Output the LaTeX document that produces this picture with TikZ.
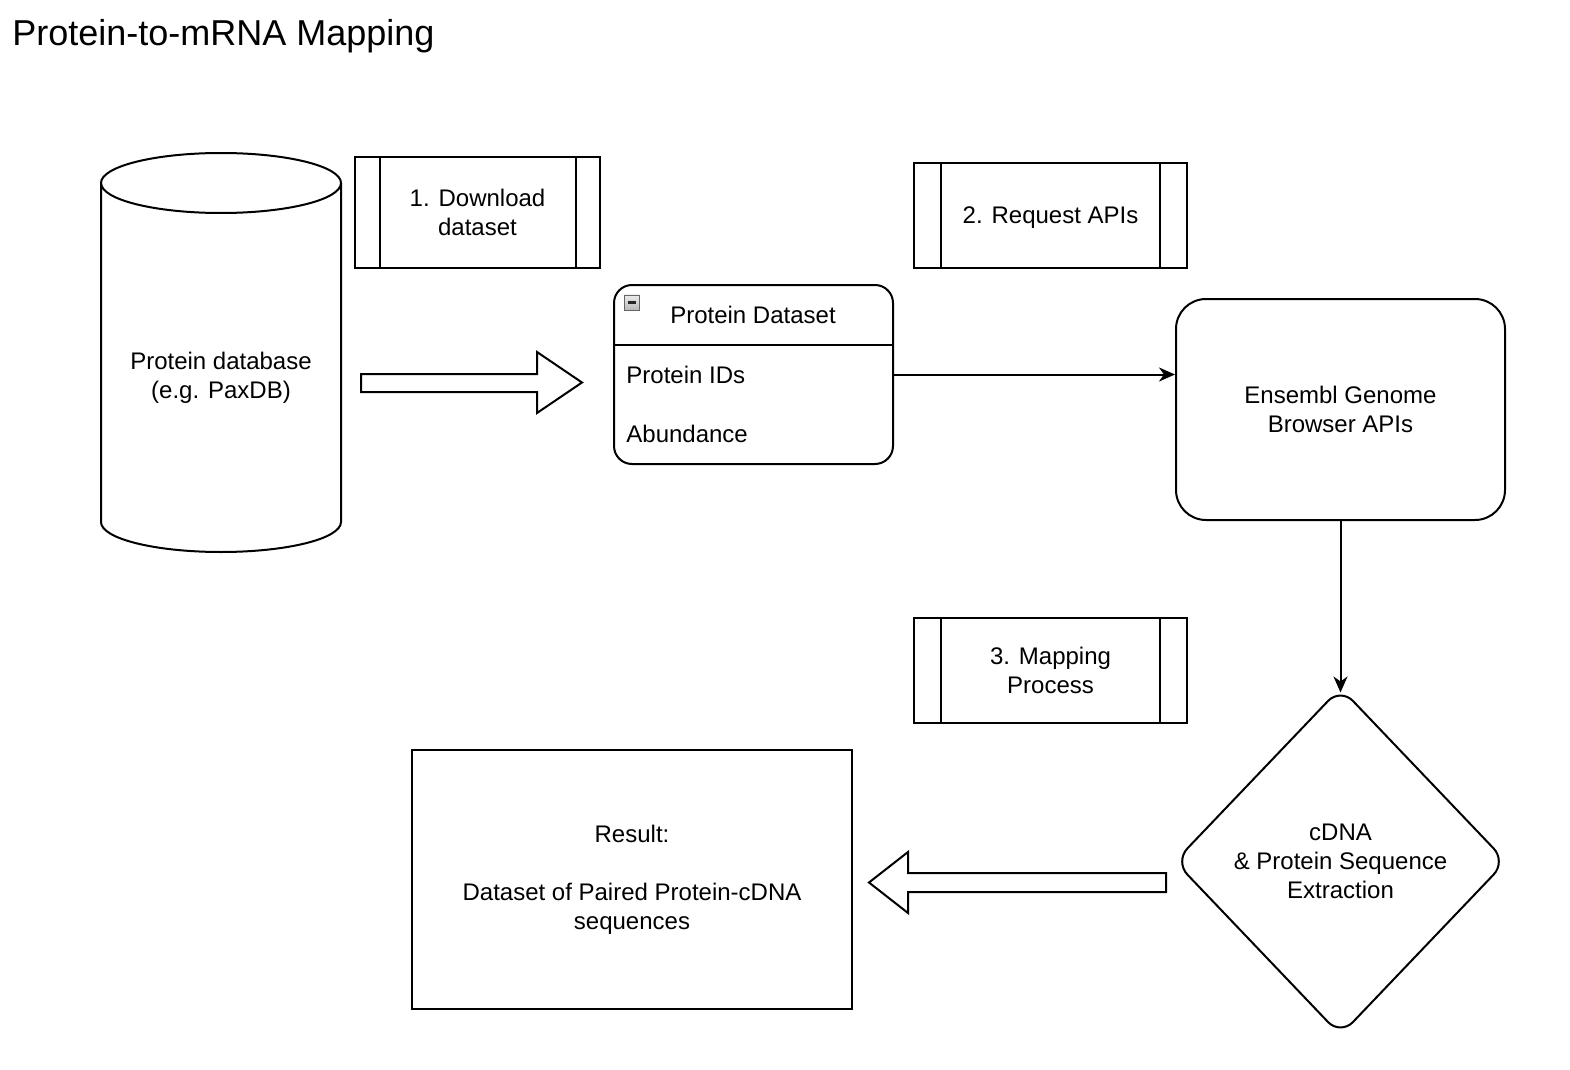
\documentclass[tikz,border=0pt]{standalone}
\usepackage{fontspec}
\setmainfont{Liberation Sans}
\usetikzlibrary{arrows.meta,shapes.geometric,calc}

\tikzset{
    txt/.style={font=\fontsize{12}{14.5}\selectfont, align=center},
    process/.style={txt, draw, line width=1pt,
        path picture={
            \draw[line width=1pt]
              ($(path picture bounding box.north west)!0.1!(path picture bounding box.north east)$) --
              ($(path picture bounding box.south west)!0.1!(path picture bounding box.south east)$)
              ($(path picture bounding box.north west)!0.9!(path picture bounding box.north east)$) --
              ($(path picture bounding box.south west)!0.9!(path picture bounding box.south east)$);
        }},
    flow/.style={line width=1pt, -{Stealth[length=8pt, width=7pt, inset=2.5pt]}},
    blockarrow/.style={line width=1pt, fill=white, line join=miter}
}

\begin{document}
\begin{tikzpicture}[x=0.5pt, y=-0.5pt]
    \useasboundingbox (0, 0) rectangle (1570, 1070);
    \fill[white] (0, 0) rectangle (1570, 1070);
    \node[anchor = base west, inner sep = 0, font = \fontsize{18}{22}\selectfont] (title) at (12, 46) {Protein-to-mRNA Mapping};
    % protein database
    \draw[line width = 1pt] (101, 183) -- (101, 522) arc[start angle = 180, end angle = 360, x radius = 60pt, y radius = 15pt] -- (341, 183);
    \draw[line width = 1pt] (221, 183) ellipse [x radius = 60pt, y radius = 15pt];
    \node[txt] (db) at (221, 377.5) {Protein database\\(e.g. PaxDB)};
    % step 1
    \node[process, minimum width = 122.5pt, minimum height = 55.5pt] (dl) at (477.5, 212.5) {1. Download\\dataset};
    \draw[blockarrow] (361, 374) -- (537, 374) -- (537, 352) -- (582, 382.5) -- (537, 413) -- (537, 392) -- (361, 392) -- cycle;
    % protein dataset
    \node[draw, line width = 1pt, rounded corners = 9pt, minimum width = 139.5pt, minimum height = 89.5pt] (ds) at (753.5, 374.5) {};
    \coordinate (hdr) at (0, 345);
    \draw[line width = 1pt] (ds.west |- hdr) -- (ds.east |- hdr);
    \node[txt] (dstitle) at (753, 315) {Protein Dataset};
    \node[txt, anchor = west, inner sep = 0] (ids) at (626, 375) {Protein IDs};
    \node[txt, anchor = west, inner sep = 0] (abund) at (626, 434) {Abundance};
    \node[draw = gray!80!black, top color = gray!15, bottom color = gray!55, minimum size = 7.5pt, inner sep = 0, anchor = north west] (fold) at (624, 294.5) {};
    \draw[line width = 1.2pt, black!85] ([xshift = 1.8pt]fold.west) -- ([xshift = -1.8pt]fold.east);
    % step 2
    \node[process, text depth = 0pt, minimum width = 136.5pt, minimum height = 52.5pt] (api) at (1050.5, 215.5) {2. Request APIs};
    \node[txt, draw, line width = 1pt, rounded corners = 15pt, minimum width = 164.5pt, minimum height = 110.5pt] (ens) at (1340.5, 409.5) {Ensembl Genome\\Browser APIs};
    \draw[flow] (ds.east) -- (ds.east -| ens.west);
    % step 3
    \node[process, minimum width = 136.5pt, minimum height = 52.5pt] (map) at (1050.5, 670.5) {3. Mapping\\Process};
    \node[txt, draw, line width = 1pt, diamond, aspect = 0.955, minimum width = 166pt, minimum height = 174pt, rounded corners = 9pt, inner sep = 0] (cdna) at (1340.5, 861.5) {cDNA\\\& Protein Sequence\\Extraction};
    \draw[flow] (ens.south) -- ([yshift = -3pt]cdna.north);
    \draw[blockarrow] (1166, 873) -- (908, 873) -- (908, 852) -- (869, 882.5) -- (908, 913) -- (908, 892) -- (1166, 892) -- cycle;
    % result
    \node[txt, draw, line width = 1pt, minimum width = 220pt, minimum height = 129.5pt] (res) at (632, 879.5) {Result:\\\mbox{}\\Dataset of Paired Protein-cDNA\\sequences};
\end{tikzpicture}
\end{document}
